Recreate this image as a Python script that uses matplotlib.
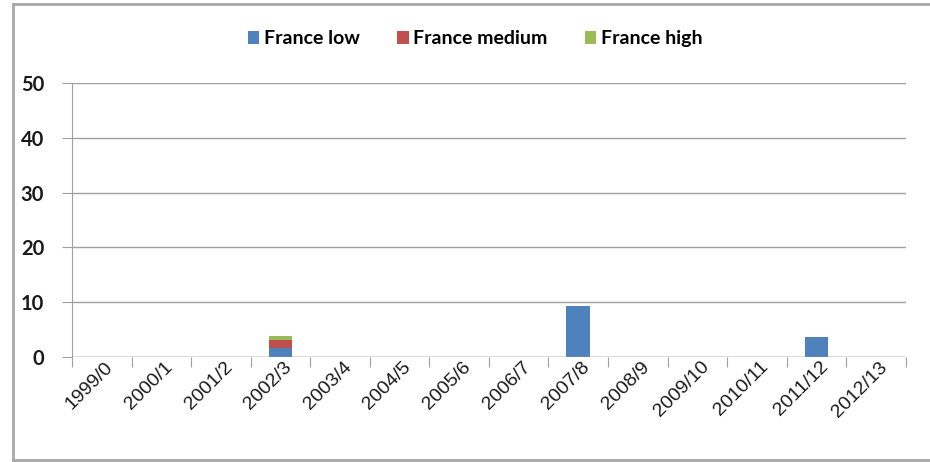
import matplotlib
matplotlib.use('Agg')
import matplotlib.pyplot as plt
from matplotlib.lines import Line2D
import numpy as np

seasons = ['1999/0', '2000/1', '2001/2', '2002/3', '2003/4', '2004/5', '2005/6',
           '2006/7', '2007/8', '2008/9', '2009/10', '2010/11', '2011/12', '2012/13']
france_low = [0, 0, 0, 1.6, 0, 0, 0, 0, 9.3, 0, 0, 0, 3.6, 0]
france_medium = [0, 0, 0, 1.5, 0, 0, 0, 0, 0, 0, 0, 0, 0, 0]
france_high = [0, 0, 0, 0.8, 0, 0, 0, 0, 0, 0, 0, 0, 0, 0]

C_LOW, C_MED, C_HIGH = '#4f81bd', '#c0504d', '#9bbb59'
GRID = '#a0a0a0'

fig = plt.figure(figsize=(9.3, 4.62), dpi=100, facecolor='white')
ax = fig.add_axes([0.0774, 0.2273, 0.8966, 0.593])

x = np.arange(len(seasons))
low = np.array(france_low)
med = np.array(france_medium)
high = np.array(france_high)
w = 0.4
ax.bar(x, low, w, color=C_LOW, label='France low', zorder=3)
ax.bar(x, med, w, bottom=low, color=C_MED, label='France medium', zorder=3)
ax.bar(x, high, w, bottom=low + med, color=C_HIGH, label='France high', zorder=3)

ax.set_xlim(-0.5, len(seasons) - 0.5)
ax.set_ylim(0, 50)
ax.set_yticks(range(0, 51, 10))
ax.yaxis.grid(True, color=GRID, lw=1.0, zorder=0)
for s in ['top', 'right', 'bottom']:
    ax.spines[s].set_visible(False)
ax.spines['left'].set_color(GRID)
ax.axhline(0, color=GRID, lw=1.0, zorder=4)

# category ticks sit on the boundaries, labels on the centres
ax.set_xticks(np.arange(len(seasons) + 1) - 0.5)
ax.set_xticklabels([])
ax.set_xticks(x + 0.05, minor=True)
ax.set_xticklabels(seasons, minor=True, rotation=45, ha='right',
                   rotation_mode='anchor', fontsize=14,
                   family='Liberation Sans', color='#1a1a1a')
ax.tick_params(axis='x', which='major', length=7, color=GRID)
ax.tick_params(axis='x', which='minor', length=0, pad=1)
ax.tick_params(axis='y', length=7, color=GRID, pad=13)
for lbl in ax.get_yticklabels():
    lbl.set_fontsize(14.5)
    lbl.set_fontweight('bold')
    lbl.set_family('Lato')
    lbl.set_color('#1a1a1a')

leg = fig.legend(loc='center', bbox_to_anchor=(0.511, 0.916), ncol=3, frameon=False,
                 prop={'family': 'Lato', 'weight': 'bold', 'size': 14},
                 handlelength=0.6, handleheight=0.6, handletextpad=0.25,
                 columnspacing=1.9)

# outer chart border (left, top, bottom edges)
bx0, by0, by1 = 12.5 / 930, 1 - 460 / 462, 1 - 4 / 462
for xs, ys in [([bx0, bx0], [by0, by1]), ([bx0, 1], [by1, by1]), ([bx0, 1], [by0, by0])]:
    fig.add_artist(Line2D(xs, ys, transform=fig.transFigure,
                          color='#a8a8a8', lw=2))

fig.savefig('out.png', dpi=100, facecolor='white')
